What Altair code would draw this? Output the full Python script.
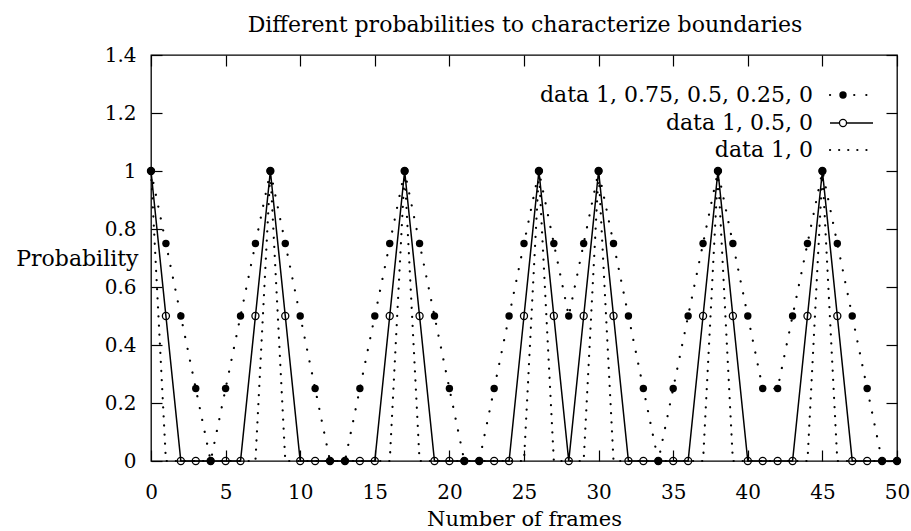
import altair as alt
import pandas as pd

# ---------------- data ----------------
frames = list(range(0, 51))

series_a = [1, 0.75, 0.5, 0.25, 0, 0.25, 0.5, 0.75, 1, 0.75,
            0.5, 0.25, 0, 0, 0.25, 0.5, 0.75, 1, 0.75, 0.5,
            0.25, 0, 0, 0.25, 0.5, 0.75, 1, 0.75, 0.5, 0.75,
            1, 0.75, 0.5, 0.25, 0, 0.25, 0.5, 0.75, 1, 0.75,
            0.5, 0.25, 0.25, 0.5, 0.75, 1, 0.75, 0.5, 0.25, 0, 0]

series_b = [1, 0.5, 0, 0, 0, 0, 0, 0.5, 1, 0.5,
            0, 0, 0, 0, 0, 0, 0.5, 1, 0.5, 0,
            0, 0, 0, 0, 0, 0.5, 1, 0.5, 0, 0.5,
            1, 0.5, 0, 0, 0, 0, 0, 0.5, 1, 0.5,
            0, 0, 0, 0, 0.5, 1, 0.5, 0, 0, 0, 0]

series_c = [1, 0, 0, 0, 0, 0, 0, 0, 1, 0,
            0, 0, 0, 0, 0, 0, 0, 1, 0, 0,
            0, 0, 0, 0, 0, 0, 1, 0, 0, 0,
            1, 0, 0, 0, 0, 0, 0, 0, 1, 0,
            0, 0, 0, 0, 0, 1, 0, 0, 0, 0, 0]

legend_labels = ["data 1, 0.75, 0.5, 0.25, 0", "data 1, 0.5, 0", "data 1, 0"]
chart_title = "Different probabilities to characterize boundaries"

x_ticks = [0, 5, 10, 15, 20, 25, 30, 35, 40, 45, 50]
y_ticks = [0, 0.2, 0.4, 0.6, 0.8, 1, 1.2, 1.4]

df = pd.DataFrame({"frame": frames, "a": series_a, "b": series_b, "c": series_c})

# ---------------- layout ----------------
W, H = 746, 406
FONT = "DejaVu Serif"
FS_TICK = 20
FS_TEXT = 22
TICK = 11

xs = alt.Scale(domain=[0, 50], nice=False, zero=False)
ys = alt.Scale(domain=[0, 1.4], nice=False)

x_main = alt.X("frame:Q", scale=xs, axis=alt.Axis(
    values=x_ticks, tickSize=TICK, offset=-TICK, domain=False, grid=False,
    labelPadding=21, labelFlush=False, title="Number of frames",
    titleX=W / 2, titleY=75, titleBaseline="alphabetic", titleAlign="center",
    titleFontWeight="normal", titleFontSize=21, labelFontSize=FS_TICK))
y_main = alt.Y("c:Q", scale=ys, axis=alt.Axis(
    values=y_ticks, format="~g", tickSize=TICK, offset=-TICK, domain=False,
    grid=False, labelPadding=15, labelFlush=False, title="Probability",
    titleAngle=0, titleAlign="right", titleBaseline="middle",
    titleX=-24, titleY=203, titleFontWeight="normal", titleFontSize=FS_TEXT,
    labelFontSize=FS_TICK))

base = alt.Chart(df)

line_c = base.mark_line(color="black", strokeWidth=2.2, strokeDash=[0.1, 9],
                        strokeCap="round").encode(x=x_main, y=y_main)

line_a = base.mark_line(color="black", strokeWidth=2.2, strokeDash=[0.1, 12],
                        strokeCap="round").encode(
    x=alt.X("frame:Q", scale=xs, axis=None),
    y=alt.Y("a:Q", scale=ys, axis=None))

line_b = base.mark_line(color="black", strokeWidth=1.5).encode(
    x=alt.X("frame:Q", scale=xs, axis=None),
    y=alt.Y("b:Q", scale=ys, axis=None))

pts_b = base.mark_point(shape="circle", filled=False, color="black", size=50,
                        strokeWidth=1.3, opacity=1).encode(
    x=alt.X("frame:Q", scale=xs, axis=None),
    y=alt.Y("b:Q", scale=ys, axis=None))

pts_a = base.mark_circle(color="black", size=55, opacity=1).encode(
    x=alt.X("frame:Q", scale=xs, axis=None),
    y=alt.Y("a:Q", scale=ys, axis=None))

mirror = base.mark_line(opacity=0).encode(
    x=alt.X("frame:Q", scale=xs, axis=alt.Axis(
        orient="top", values=x_ticks, tickSize=TICK, offset=-TICK,
        domain=False, grid=False, labels=False, title=None)),
    y=alt.Y("c:Q", scale=ys, axis=alt.Axis(
        orient="right", values=y_ticks, tickSize=TICK, offset=-TICK,
        domain=False, grid=False, labels=False, title=None)))

# ---------------- title (as text above the frame) ----------------
title_mark = alt.Chart(pd.DataFrame({"t": [chart_title]})).mark_text(
    align="center", baseline="alphabetic", font=FONT, fontSize=FS_TEXT,
    color="black").encode(text="t:N", x=alt.value(W / 2 + 1), y=alt.value(-23))

# ---------------- legend (manual, top right) ----------------
one = alt.Chart(pd.DataFrame({"k": [0]}))
leg_x_text = 662
rows_y = [40, 68, 95]
sx1, sx2, sxp = 679, 722, 692

legend_layers = []
for lbl, yy in zip(legend_labels, rows_y):
    legend_layers.append(
        alt.Chart(pd.DataFrame({"t": [lbl]})).mark_text(
            align="right", baseline="middle", font=FONT, fontSize=FS_TEXT,
            color="black").encode(text="t:N", x=alt.value(leg_x_text),
                                  y=alt.value(yy)))

leg_a_line = one.mark_rule(color="black", strokeWidth=2.2, strokeDash=[0.1, 12],
                           strokeCap="round").encode(
    x=alt.value(sx1), x2=alt.value(sx2), y=alt.value(rows_y[0]))
leg_a_pt = one.mark_circle(color="black", size=55, opacity=1).encode(
    x=alt.value(sxp), y=alt.value(rows_y[0]))
leg_b_line = one.mark_rule(color="black", strokeWidth=1.5).encode(
    x=alt.value(sx1), x2=alt.value(sx2), y=alt.value(rows_y[1]))
leg_b_pt = one.mark_point(shape="circle", filled=False, color="black", size=50,
                          strokeWidth=1.3, opacity=1, fill="white").encode(
    x=alt.value(sxp), y=alt.value(rows_y[1]))
leg_c_line = one.mark_rule(color="black", strokeWidth=2.2, strokeDash=[0.1, 9],
                           strokeCap="round").encode(
    x=alt.value(sx1), x2=alt.value(sx2), y=alt.value(rows_y[2]))

chart = alt.layer(
    line_c, line_a, line_b, pts_b, pts_a, mirror, title_mark,
    *legend_layers, leg_a_line, leg_a_pt, leg_b_line, leg_b_pt, leg_c_line
).resolve_axis(x="independent", y="independent").properties(
    width=W, height=H,
    background="white",
    autosize=alt.AutoSizeParams(type="none"),
    padding={"left": 151, "top": 55, "right": 14, "bottom": 70},
).configure_view(stroke="black", strokeWidth=1.3).configure_axis(
    labelFont=FONT, titleFont=FONT, labelColor="black", titleColor="black",
    tickColor="black", tickWidth=1.2
)

chart.save("out.html", embed_options={"renderer": "svg", "actions": False})
